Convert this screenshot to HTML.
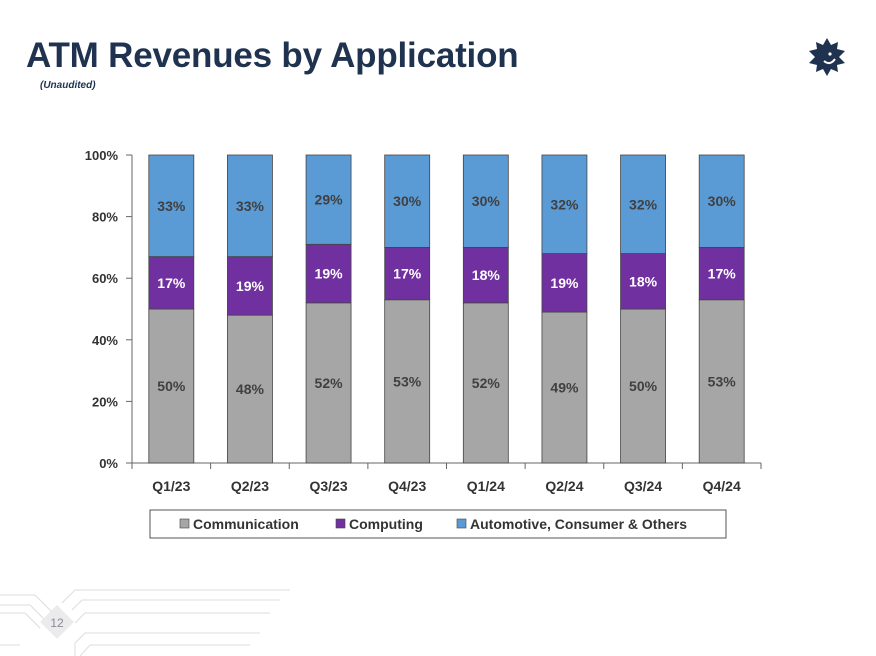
<!DOCTYPE html>
<html><head><meta charset="utf-8"><style>
body{margin:0;width:876px;height:656px;background:#fff;overflow:hidden;position:relative;font-family:"Liberation Sans",sans-serif}
#title{position:absolute;left:26px;top:36px;font-size:35px;font-weight:bold;color:#1f3350;letter-spacing:-0.2px}
#sub{position:absolute;left:40px;top:80px;font-size:10px;font-style:italic;font-weight:bold;color:#1f3350}
</style></head><body>
<div id="title">ATM Revenues by Application</div>
<div id="sub">(Unaudited)</div>
<svg style="position:absolute;left:806px;top:36px" width="42" height="42" viewBox="-21 -21 42 42">
<polygon fill="#1f3350" points="0,-19 4,-12 11,-15 10,-8 18,-6 12,0 18,6 10,8 11,15 4,12 0,19 -4,12 -11,15 -10,8 -18,6 -12,0 -18,-6 -10,-8 -11,-15 -4,-12"/>
<circle cx="3" cy="-3" r="1.6" fill="#fff"/><path d="M-3,4 Q3,9 8,2" stroke="#fff" stroke-width="2" fill="none"/>
</svg>
<svg style="position:absolute;left:0;top:585px" width="300" height="71">
<g stroke="#ddd" fill="none" stroke-width="1">
<path d="M0,10 H35 L60,35"/><path d="M0,20 H30 L50,40"/><path d="M0,28 H25 L40,43"/><path d="M0,60 H20"/>
<path d="M290,5 H75 L62,18"/><path d="M280,15 H82 L72,25"/><path d="M270,28 H85 L75,38"/><path d="M260,48 H85 L75,58 V71"/><path d="M250,60 H90 L80,71"/>
</g>
<rect x="45" y="25" width="24" height="24" fill="#ebebeb" transform="rotate(45 57 37)"/>
<text x="57" y="42" text-anchor="middle" font-size="12" fill="#8a8a9a" font-family="Liberation Sans">12</text>
</svg>
<svg id="chart" style="position:absolute;left:0;top:0" width="876" height="656"></svg>
<script>
const categories=["Q1/23","Q2/23","Q3/23","Q4/23","Q1/24","Q2/24","Q3/24","Q4/24"];
const communication=[50,48,52,53,52,49,50,53];
const computing=[17,19,19,17,18,19,18,17];
const others=[33,33,29,30,30,32,32,30];
const yTicks=[0,20,40,60,80,100];
const seriesNames=["Communication","Computing","Automotive, Consumer & Others"];
const NS="http://www.w3.org/2000/svg";
const svg=document.getElementById('chart');
const x0=132,x1=761,y0=463,y1=155;
const band=(x1-x0)/categories.length;
const xc=i=>x0+band*(i+0.5);
const y=v=>y0-(y0-y1)*v/100;
function mk(t,a,p){const e=document.createElementNS(NS,t);for(const k in a)e.setAttribute(k,a[k]);(p||svg).appendChild(e);return e;}
const F='"Liberation Sans",sans-serif';
yTicks.forEach(v=>{
 const t=mk('text',{x:118,y:y(v)+5,'text-anchor':'end','font-size':13,'font-weight':'bold',fill:'#333','font-family':F});
 t.textContent=v+'%';
 
 
 mk('line',{x1:126,x2:x0,y1:y(v),y2:y(v),stroke:'#666'});
});
mk('line',{x1:x0,x2:x0,y1:y1,y2:y0,stroke:'#666'});
mk('line',{x1:x0,x2:x1,y1:y0,y2:y0,stroke:'#666'});
for(let i=0;i<=categories.length;i++)mk('line',{x1:x0+band*i,x2:x0+band*i,y1:y0,y2:y0+6,stroke:'#666'});
const series=[communication,computing,others];
const colors=['#a6a6a6','#7030a0','#5b9bd5'];
const lblc=['#404040','#fff','#404040'];
const bw=45;
categories.forEach((c,i)=>{
 let base=0;
 series.forEach((s,k)=>{
  const v=s[i];
  const r=mk('rect',{x:xc(i)-bw/2,y:y(base+v),width:bw,height:y(base)-y(base+v),fill:colors[k],stroke:'#444','stroke-width':0.8});
  
  
  const t=mk('text',{x:xc(i),y:y(base+v/2)+5,'text-anchor':'middle','font-size':14,'font-weight':'bold',fill:lblc[k],'font-family':F});
  t.textContent=v+'%';
  
  
  base+=v;
 });
 const t=mk('text',{x:xc(i),y:y0+28,'text-anchor':'middle','font-size':14,'font-weight':'bold',fill:'#333','font-family':F});
 t.textContent=c;
 
 
});
const lg=mk('g',{});


mk('rect',{x:150,y:510,width:576,height:28,fill:'#fff',stroke:'#555'},lg);
const lx=[180,336,457];
seriesNames.forEach((n,k)=>{
 mk('rect',{x:lx[k],y:519,width:9,height:9,fill:colors[k],stroke:'#444','stroke-width':0.6},lg);
 const t=mk('text',{x:lx[k]+13,y:529,'font-size':14,'font-weight':'bold',fill:'#333','font-family':F},lg);
 t.textContent=n;
 
 
});
</script>
</body></html>
